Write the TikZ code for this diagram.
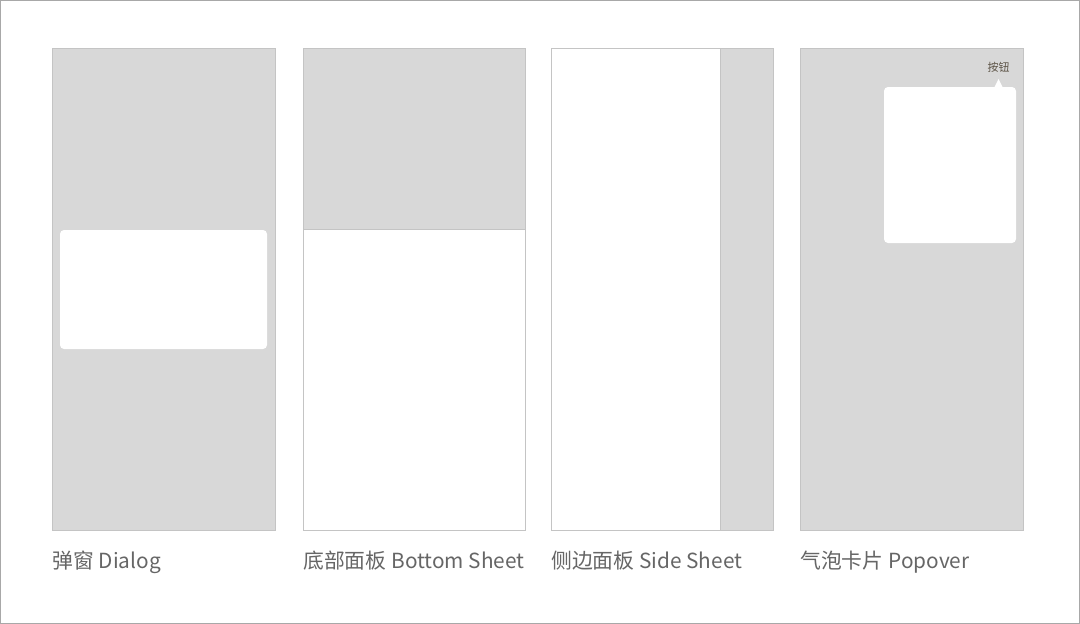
\documentclass[tikz,border=0pt]{standalone}
\usepackage{fontspec}
\setmainfont{Noto Sans CJK SC}
\definecolor{panelgray}{HTML}{D8D8D8}
\definecolor{edgegray}{HTML}{C4C4C4}
\definecolor{framegray}{HTML}{A8A8A8}
\definecolor{labelgray}{HTML}{666666}
\definecolor{btntext}{HTML}{5C5346}
\newcommand{\capgap}{\hspace{5pt}}
\tikzset{
  panelfill/.style={fill=panelgray},
  paneledge/.style={draw=edgegray, line width=1pt},
  card/.style={fill=white, rounded corners=4pt},
  caption/.style={anchor=base west, inner sep=0pt, text=labelgray, font=\fontsize{20.8}{24}\selectfont},
  btnlabel/.style={inner sep=0pt, text=btntext, font=\fontsize{11}{13}\selectfont}
}
\begin{document}
\begin{tikzpicture}[x=1pt,y=-1pt]
\useasboundingbox (0,0) rectangle (1080,624);
\fill[white] (0,0) rectangle (1080,624);
\draw[framegray, line width=1pt] (0.5,0.5) rectangle (1079.5,623.5);

% Panel 1: Dialog
\fill[panelfill] (52,48) rectangle (276,531);
\draw[paneledge] (52.5,48.5) rectangle (275.5,530.5);
\fill[card] (60,230) rectangle (267,349);

% Panel 2: Bottom Sheet
\fill[panelfill] (303,48) rectangle (526,230);
\draw[paneledge] (303.5,229.5) -- (525.5,229.5);
\draw[paneledge] (303.5,48.5) rectangle (525.5,530.5);

% Panel 3: Side Sheet
\fill[panelfill] (720,48) rectangle (774,531);
\draw[paneledge] (720.5,48.5) -- (720.5,530.5);
\draw[paneledge] (551.5,48.5) rectangle (773.5,530.5);

% Panel 4: Popover
\fill[panelfill] (800,48) rectangle (1024,531);
\draw[paneledge] (800.5,48.5) rectangle (1023.5,530.5);
\fill[card] (884,87) rectangle (1016,243);
\fill[white] (994,88) -- (998.5,79) -- (1003,88) -- cycle;
\node[btnlabel] (btn) at (998.5,67) {按钮};

% Captions
\node[caption] (c1) at (52,568) {弹窗\capgap Dialog};
\node[caption] (c2) at (303,568) {底部面板\capgap Bottom Sheet};
\node[caption] (c3) at (551,568) {侧边面板\capgap Side Sheet};
\node[caption] (c4) at (800,568) {气泡卡片\capgap Popover};
\end{tikzpicture}
\end{document}
